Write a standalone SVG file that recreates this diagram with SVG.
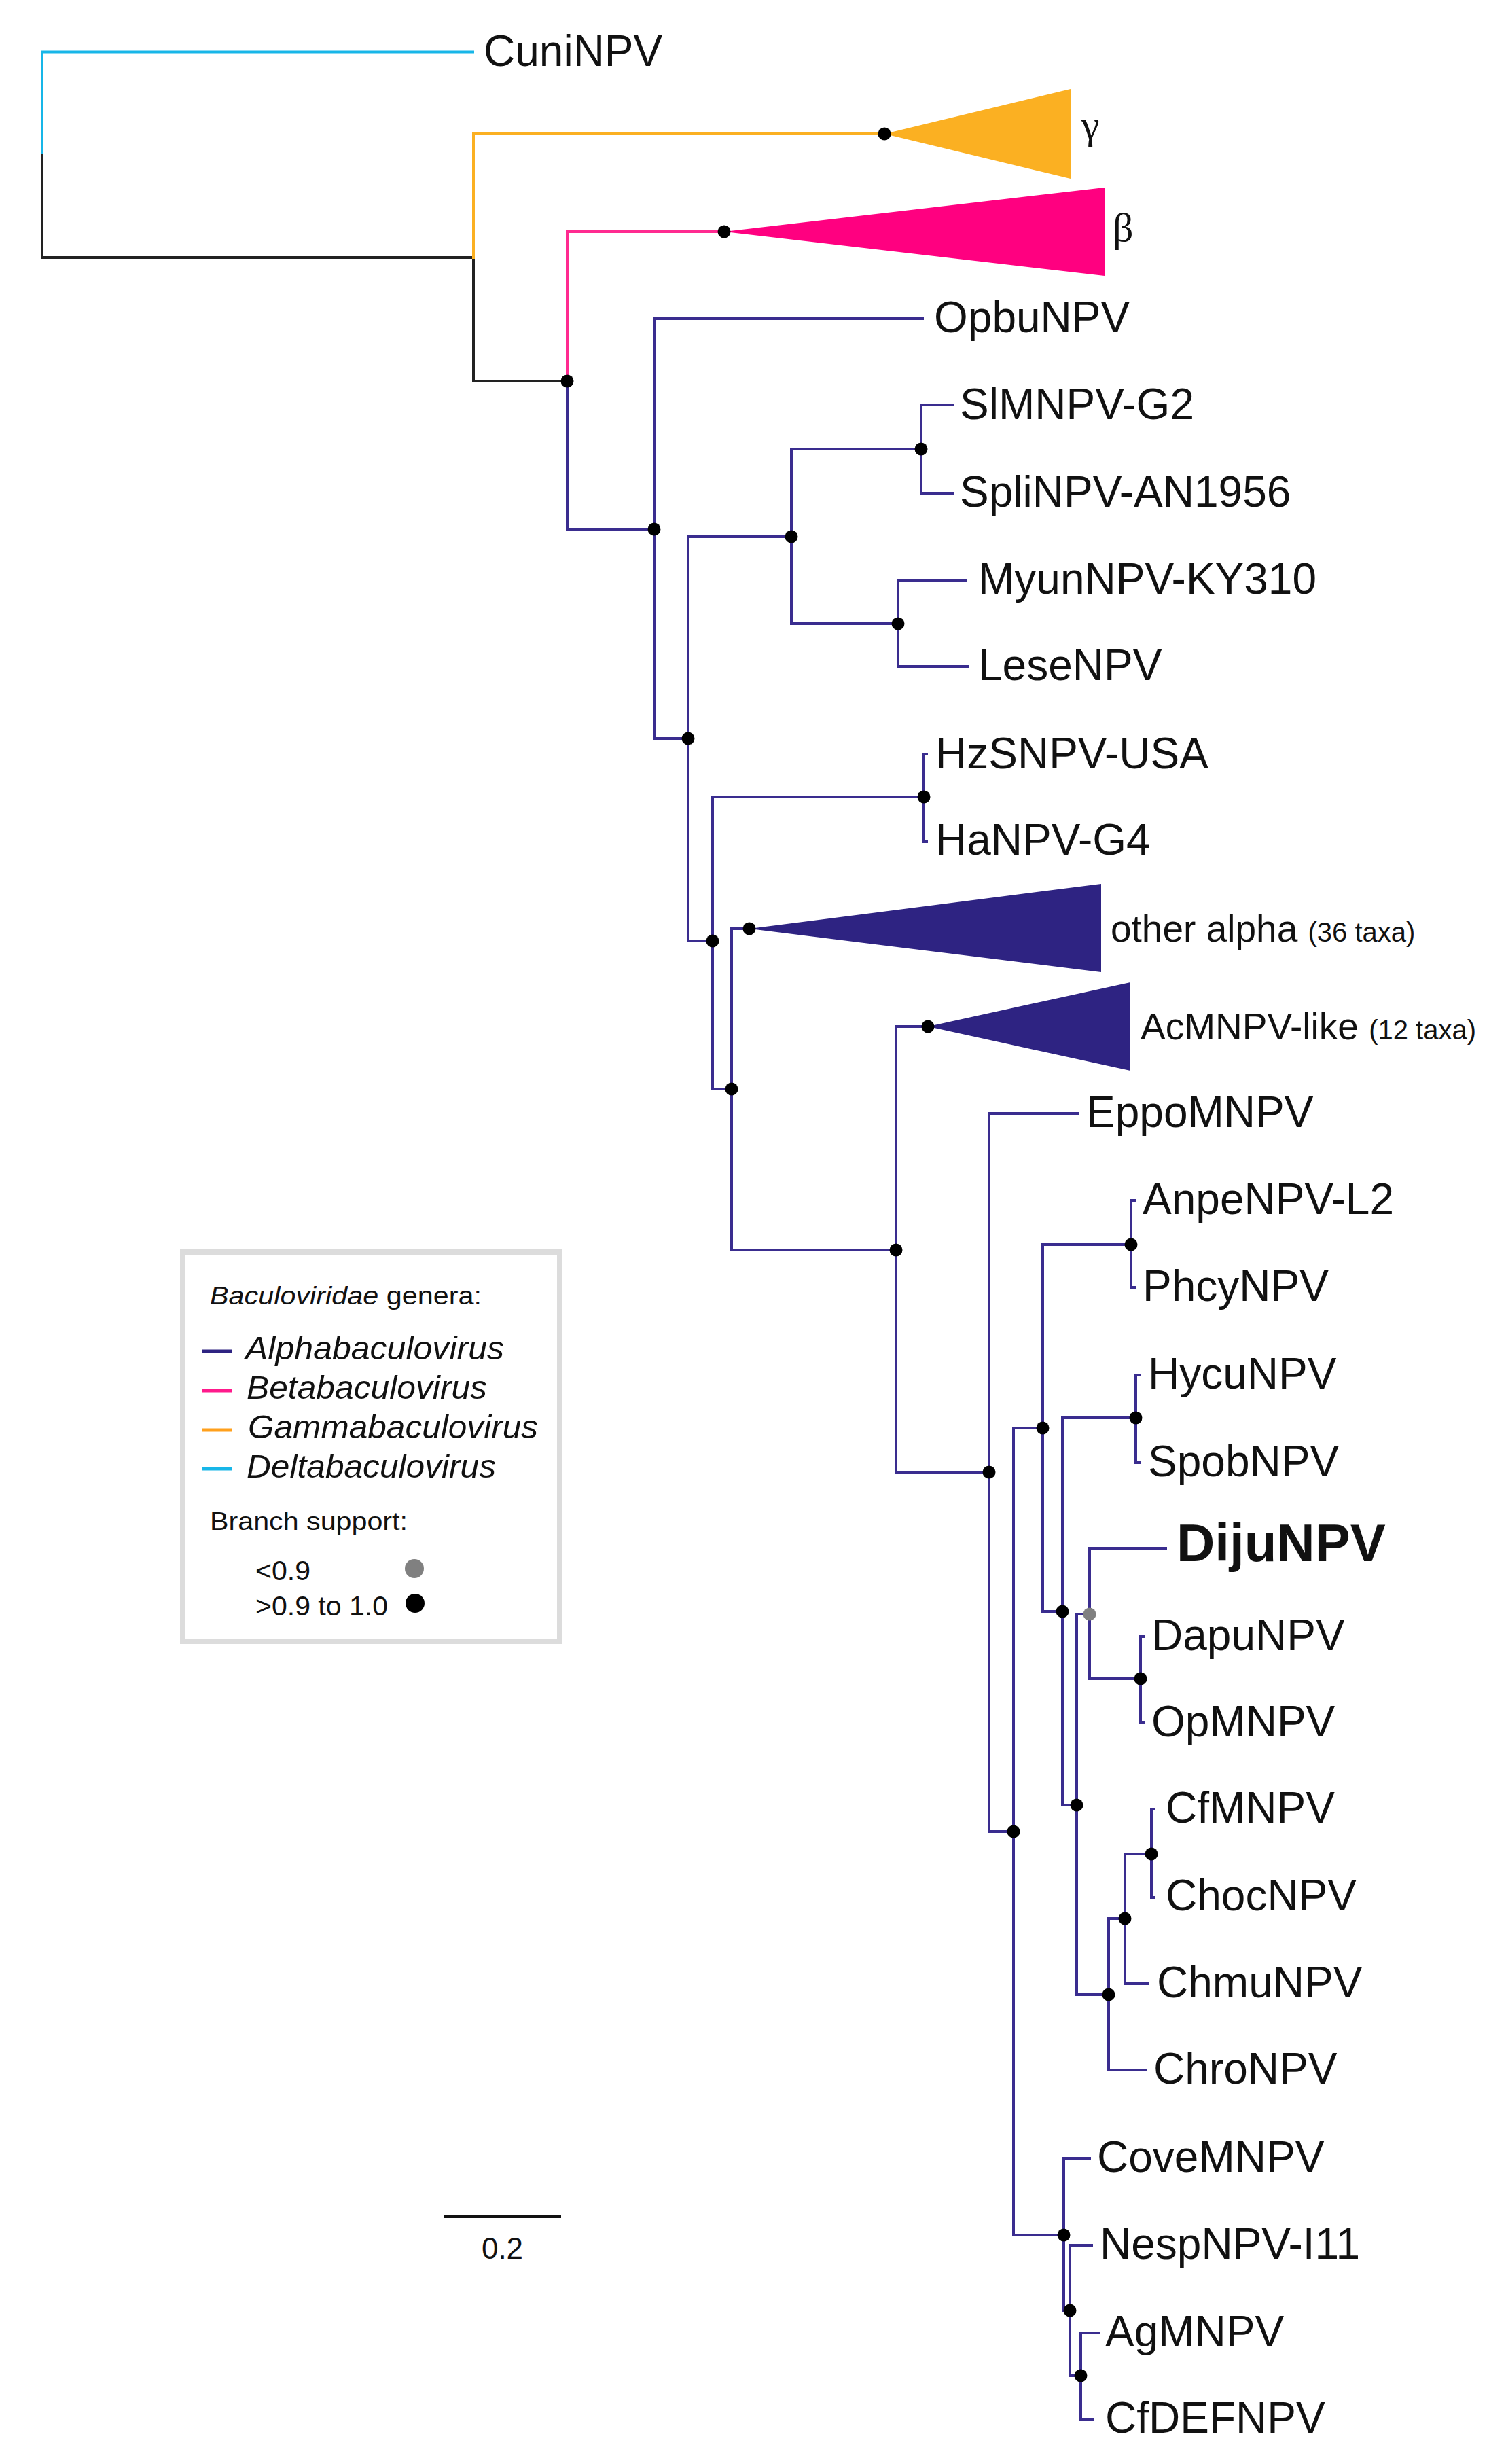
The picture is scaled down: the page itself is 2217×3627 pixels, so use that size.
<svg xmlns="http://www.w3.org/2000/svg" width="2217" height="3627" viewBox="0 0 2217 3627">
<style>
.br{fill:none;stroke-width:4;stroke-linejoin:miter;stroke-linecap:butt}
.al{stroke:#3a2d8f}
.be{stroke:#ff2a90}
.ga{stroke:#fbb022}
.de{stroke:#17b6e8}
.bk{stroke:#222}
.lbl{font-family:"Liberation Sans",Arial,sans-serif;font-size:64px;fill:#111}
.diju{font-size:78px;font-weight:bold}
.clab{font-family:"Liberation Sans",Arial,sans-serif;font-size:55px;fill:#111}
.small{font-size:40px}
.greek{font-family:"Liberation Serif","Times New Roman",serif;font-size:60px;fill:#111}
.lg{font-family:"Liberation Sans",Arial,sans-serif;fill:#111}
.dot{fill:#000}
.gdot{fill:#808080}
</style>
<rect width="2217" height="3627" fill="#fff"/>
<g id="connectors">
<path class="br de" d="M62,228 V76.5 H698"/>
<path class="br bk" d="M62,226 V379 H697 M697,377 V561 H835"/>
<path class="br ga" d="M697,381 V197 H1302"/>
<path class="br be" d="M835,563 V341 H1066"/>
<path class="br al" d="M835,559 V779 H963
M963,779 V469 H1360
M963,779 V1087 H1013
M1013,1087 V790 H1165
M1013,1087 V1385 H1049
M1165,790 V661 H1356
M1165,790 V918 H1322
M1356,661 V596 H1404
M1356,661 V726 H1404
M1322,918 V854 H1423
M1322,918 V981 H1427
M1049,1385 V1173 H1360
M1049,1385 V1603 H1077
M1077,1603 V1367 H1103
M1077,1603 V1840 H1319
M1319,1840 V1511 H1366
M1319,1840 V2167 H1456
M1456,2167 V1639 H1588
M1456,2167 V2696 H1492
M1492,2696 V2102 H1535
M1492,2696 V3290 H1566
M1535,2102 V1832 H1665
M1535,2102 V2372 H1564
M1665,1832 V1767 H1672
M1665,1832 V1895 H1672
M1564,2372 V2087 H1672
M1564,2372 V2657 H1585
M1672,2087 V2024 H1680
M1672,2087 V2153 H1680
M1585,2657 V2376 H1604
M1585,2657 V2936 H1632
M1604,2376 V2279 H1718
M1604,2376 V2471 H1679
M1679,2471 V2409 H1685
M1679,2471 V2536 H1685
M1632,2936 V2824 H1656
M1632,2936 V3047 H1689
M1656,2824 V2729 H1695
M1656,2824 V2920 H1692
M1695,2729 V2663 H1701
M1695,2729 V2793 H1701
M1566,3290 V3177 H1606
M1566,3290 V3401 H1575
M1575,3401 V3305 H1609
M1575,3401 V3497 H1591
M1591,3497 V3434 H1620
M1591,3497 V3562 H1610"/>
<path class="br al" stroke-width="2.5" d="M1360,1173 V1110 H1366 M1360,1173 V1239 H1366"/>
</g>
<g id="internal-nodes">
<circle class="dot" cx="835" cy="561" r="9.5"/>
<circle class="dot" cx="963" cy="779" r="9.5"/>
<circle class="dot" cx="1013" cy="1087" r="9.5"/>
<circle class="dot" cx="1165" cy="790" r="9.5"/>
<circle class="dot" cx="1356" cy="661" r="9.5"/>
<circle class="dot" cx="1322" cy="918" r="9.5"/>
<circle class="dot" cx="1049" cy="1385" r="9.5"/>
<circle class="dot" cx="1360" cy="1173" r="9.5"/>
<circle class="dot" cx="1077" cy="1603" r="9.5"/>
<circle class="dot" cx="1319" cy="1840" r="9.5"/>
<circle class="dot" cx="1456" cy="2167" r="9.5"/>
<circle class="dot" cx="1492" cy="2696" r="9.5"/>
<circle class="dot" cx="1535" cy="2102" r="9.5"/>
<circle class="dot" cx="1665" cy="1832" r="9.5"/>
<circle class="dot" cx="1564" cy="2372" r="9.5"/>
<circle class="dot" cx="1672" cy="2087" r="9.5"/>
<circle class="dot" cx="1585" cy="2657" r="9.5"/>
<circle class="gdot" cx="1604" cy="2376" r="9.5"/>
<circle class="dot" cx="1679" cy="2471" r="9.5"/>
<circle class="dot" cx="1632" cy="2936" r="9.5"/>
<circle class="dot" cx="1656" cy="2824" r="9.5"/>
<circle class="dot" cx="1695" cy="2729" r="9.5"/>
<circle class="dot" cx="1566" cy="3290" r="9.5"/>
<circle class="dot" cx="1575" cy="3401" r="9.5"/>
<circle class="dot" cx="1591" cy="3497" r="9.5"/>
</g>
<g id="clade-gamma">
<polygon points="1302,197 1576,131 1576,263" fill="#fbb022"/>
<circle class="dot" cx="1302" cy="197" r="9.5"/>
<text class="greek" x="1592" y="204">γ</text>
</g>
<g id="clade-beta">
<polygon points="1066,341 1626,276 1626,406" fill="#ff0080"/>
<circle class="dot" cx="1066" cy="341" r="9.5"/>
<text class="greek" x="1638" y="355">β</text>
</g>
<g id="clade-other-alpha">
<polygon points="1103,1367 1621,1301 1621,1431" fill="#2e2382"/>
<circle class="dot" cx="1103" cy="1367" r="9.5"/>
<text class="clab" x="1635" y="1386">other alpha <tspan class="small">(36 taxa)</tspan></text>
</g>
<g id="clade-acmnpv">
<polygon points="1366,1511 1664,1446 1664,1576" fill="#2e2382"/>
<circle class="dot" cx="1366" cy="1511" r="9.5"/>
<text class="clab" x="1679" y="1530">AcMNPV-like <tspan class="small">(12 taxa)</tspan></text>
</g>
<g id="leaf-CuniNPV"><text class="lbl" x="712" y="97">CuniNPV</text></g>
<g id="leaf-OpbuNPV"><text class="lbl" x="1375" y="489">OpbuNPV</text></g>
<g id="leaf-SlMNPV-G2"><text class="lbl" x="1413" y="617">SlMNPV-G2</text></g>
<g id="leaf-SpliNPV-AN1956"><text class="lbl" x="1413" y="746">SpliNPV-AN1956</text></g>
<g id="leaf-MyunNPV-KY310"><text class="lbl" x="1440" y="874">MyunNPV-KY310</text></g>
<g id="leaf-LeseNPV"><text class="lbl" x="1440" y="1001">LeseNPV</text></g>
<g id="leaf-HzSNPV-USA"><text class="lbl" x="1377" y="1131">HzSNPV-USA</text></g>
<g id="leaf-HaNPV-G4"><text class="lbl" x="1377" y="1258">HaNPV-G4</text></g>
<g id="leaf-EppoMNPV"><text class="lbl" x="1599" y="1659">EppoMNPV</text></g>
<g id="leaf-AnpeNPV-L2"><text class="lbl" x="1682" y="1787">AnpeNPV-L2</text></g>
<g id="leaf-PhcyNPV"><text class="lbl" x="1682" y="1915">PhcyNPV</text></g>
<g id="leaf-HycuNPV"><text class="lbl" x="1690" y="2044">HycuNPV</text></g>
<g id="leaf-SpobNPV"><text class="lbl" x="1690" y="2173">SpobNPV</text></g>
<g id="leaf-DijuNPV"><text class="lbl diju" x="1732" y="2298">DijuNPV</text></g>
<g id="leaf-DapuNPV"><text class="lbl" x="1695" y="2429">DapuNPV</text></g>
<g id="leaf-OpMNPV"><text class="lbl" x="1695" y="2556">OpMNPV</text></g>
<g id="leaf-CfMNPV"><text class="lbl" x="1716" y="2683">CfMNPV</text></g>
<g id="leaf-ChocNPV"><text class="lbl" x="1716" y="2812">ChocNPV</text></g>
<g id="leaf-ChmuNPV"><text class="lbl" x="1703" y="2940">ChmuNPV</text></g>
<g id="leaf-ChroNPV"><text class="lbl" x="1698" y="3067">ChroNPV</text></g>
<g id="leaf-CoveMNPV"><text class="lbl" x="1615" y="3197">CoveMNPV</text></g>
<g id="leaf-NespNPV-I11"><text class="lbl" x="1619" y="3325">NespNPV-I11</text></g>
<g id="leaf-AgMNPV"><text class="lbl" x="1627" y="3454">AgMNPV</text></g>
<g id="leaf-CfDEFNPV"><text class="lbl" x="1627" y="3581">CfDEFNPV</text></g>
<g id="legend">
<rect x="269" y="1843" width="555" height="573" fill="#fff" stroke="#dcdcdc" stroke-width="8"/>
<text class="lg" x="309" y="1920" font-size="37" textLength="400" lengthAdjust="spacingAndGlyphs"><tspan font-style="italic">Baculoviridae</tspan> genera:</text>
<line x1="298" y1="1989" x2="342" y2="1989" stroke="#2e2382" stroke-width="5"/>
<line x1="298" y1="2047" x2="342" y2="2047" stroke="#ff1a8c" stroke-width="5"/>
<line x1="298" y1="2105" x2="342" y2="2105" stroke="#ffa01c" stroke-width="5"/>
<line x1="298" y1="2162" x2="342" y2="2162" stroke="#17b6e8" stroke-width="5"/>
<text class="lg" x="361" y="2001" font-size="48" font-style="italic" textLength="381" lengthAdjust="spacingAndGlyphs">Alphabaculovirus</text>
<text class="lg" x="363" y="2059" font-size="48" font-style="italic" textLength="354" lengthAdjust="spacingAndGlyphs">Betabaculovirus</text>
<text class="lg" x="365" y="2117" font-size="48" font-style="italic" textLength="427" lengthAdjust="spacingAndGlyphs">Gammabaculovirus</text>
<text class="lg" x="363" y="2175" font-size="48" font-style="italic" textLength="367" lengthAdjust="spacingAndGlyphs">Deltabaculovirus</text>
<text class="lg" x="309" y="2252" font-size="37" textLength="291" lengthAdjust="spacingAndGlyphs">Branch support:</text>
<text class="lg" x="376" y="2326" font-size="40" textLength="81" lengthAdjust="spacingAndGlyphs">&lt;0.9</text>
<text class="lg" x="376" y="2378" font-size="40" textLength="195" lengthAdjust="spacingAndGlyphs">&gt;0.9 to 1.0</text>
<circle class="gdot" cx="610" cy="2309" r="14"/>
<circle class="dot" cx="611" cy="2360" r="14"/>
</g>
<g id="scale-bar">
<line x1="653" y1="3263" x2="826" y2="3263" stroke="#111" stroke-width="4"/>
<text class="lg" x="739.5" y="3325" font-size="44" text-anchor="middle">0.2</text>
</g>
</svg>
